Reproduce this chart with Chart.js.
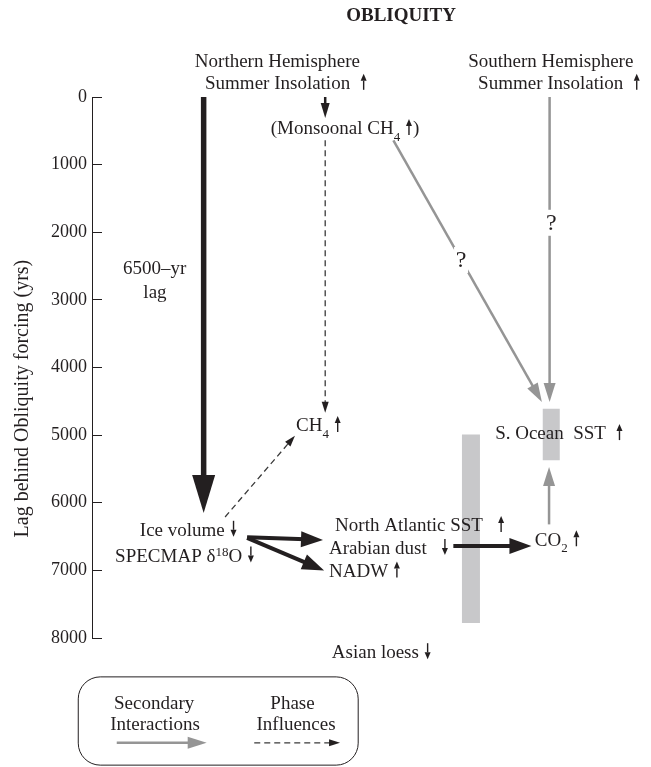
<!DOCTYPE html>
<html>
<head>
<meta charset="utf-8">
<script src="https://cdn.jsdelivr.net/npm/chart.js@4.4.1/dist/chart.umd.min.js"></script>
<style>
  html, body { margin: 0; padding: 0; background: #fff; }
</style>
</head>
<body>
<canvas id="chart" width="651" height="767"></canvas>
<script>
// Lag axis, years behind obliquity forcing
const lagTicks = [0, 1000, 2000, 3000, 4000, 5000, 6000, 7000, 8000];

// Labelled nodes: x is a 0-100 position across the panel, lag in years.
// "_4" = subscript, "^18" = superscript, {up}/{down} = trend arrow
const nodeText = [
  'Northern Hemisphere', 'Summer Insolation  {up}',
  'Southern Hemisphere', 'Summer Insolation  {up}',
  '(Monsoonal CH_4 {up})', 'CH_4 {up}',
  'Ice volume {down}', 'SPECMAP δ^18O {down}',
  'North Atlantic SST   {up}', 'Arabian dust   {down}', 'NADW {up}',
  'CO_2 {up}', 'S. Ocean  SST  {up}', 'Asian loess {down}'
];
const nodeX   = [18.7, 20.55, 68.4, 70.2, 32.5, 37.1, 8.7, 4.2, 44.2, 43.1, 43.1, 80.5, 73.3, 43.6];
const nodeLag = [-530, -210, -530, -210, 460, 4850, 6400, 6780, 6330, 6670, 7000, 6540, 4970, 8210];

// centred notes
const noteText = ['6500\u2013yr', 'lag'];
const noteX    = [11.4, 11.45];
const noteLag  = [2530, 2880];

// unknown links
const queryX   = [67.1, 83.5];
const queryLag = [2410, 1860];

// arrows: start / end (x, lag) and their kind
const arrowKind  = ['big', 'small', 'dashed', 'dashed', 'bold', 'bold', 'bold', 'gray', 'gray', 'gray'];
const arrowFromX = [20.3, 42.4, 42.4, 24.2, 28.2, 28.2, 65.7, 83.1, 54.8, 83.2];
const arrowFromL = [0,    0,    640,  6210, 6510, 6520, 6640, 6320, 640,  0];
const arrowToX   = [20.3, 42.4, 42.4, 36.9, 42.0, 42.2, 79.9, 83.1, 81.8, 83.2];
const arrowToL   = [6150, 310,  4670, 5010, 6550, 7000, 6640, 5470, 4510, 4510];

// shaded timing bands: x, lag range
const bandX    = [68.9, 83.5];
const bandFrom = [4990, 4610];
const bandTo   = [7780, 5370];

// legend
const legendLabels = [['Secondary', 'Interactions'], ['Phase', 'Influences']];
const legendKind   = ['gray', 'dashed'];
const legendX      = [[4.5, 20.85], [29.5, 45.1]];
const legendLag    = 9550;

const FAMILY = "'Liberation Serif', 'Times New Roman', serif";
const INK = '#231f20';
const GRAY = '#959595';

const styles = {
  big:    { color: INK,  width: 5.5, head: { len: 38, w: 23, color: INK } },
  bold:   { color: INK,  width: 4,   head: { len: 22, w: 16, color: INK } },
  small:  { color: INK,  width: 2.5, head: { len: 15, w: 9,  color: INK } },
  gray:   { color: GRAY, width: 2.5, head: { len: 19, w: 12, color: GRAY } },
  dashed: { color: '#3a3a3a', width: 1.3, dash: [6, 4], head: { len: 11, w: 7, color: INK } }
};

function arrowDataset(kind, x0, l0, x1, l1) {
  const s = styles[kind];
  return {
    type: 'line',
    data: [{ x: x0, y: l0 }, { x: x1, y: l1 }],
    borderColor: s.color,
    borderWidth: s.width,
    borderDash: s.dash || [],
    borderCapStyle: 'butt',
    pointRadius: 0,
    clip: false,
    order: 1,
    head: s.head
  };
}

const datasets = [];
arrowKind.forEach((k, i) => datasets.push(arrowDataset(k, arrowFromX[i], arrowFromL[i], arrowToX[i], arrowToL[i])));
legendKind.forEach((k, i) => datasets.push(arrowDataset(k, legendX[i][0], legendLag, legendX[i][1], legendLag)));
bandX.forEach((x, i) => datasets.push({
  type: 'line',
  data: [{ x: x, y: bandFrom[i] }, { x: x, y: bandTo[i] }],
  borderColor: '#c8c8ca',
  borderWidth: i === 0 ? 18 : 17,
  borderCapStyle: 'butt',
  pointRadius: 0,
  clip: false,
  order: 5
}));

// arrow heads at the last point of each arrow dataset
const tips = {};
const arrowHeads = {
  id: 'arrowHeads',
  beforeDatasetDraw(chart, args) {
    const ds = chart.data.datasets[args.index];
    if (!ds.head) return;
    const pts = args.meta.data;
    const a = pts[0], b = pts[1];
    const dx = b.x - a.x, dy = b.y - a.y, len = Math.hypot(dx, dy);
    const t = { x: b.x, y: b.y, ux: dx / len, uy: dy / len };
    tips[args.index] = t;
    b.x -= t.ux * ds.head.len * 0.8;
    b.y -= t.uy * ds.head.len * 0.8;
    args.meta.dataset._path = undefined;
  },
  afterDatasetDraw(chart, args) {
    const ds = chart.data.datasets[args.index];
    const t = tips[args.index];
    if (!ds.head || !t) return;
    const b = args.meta.data[1];
    b.x = t.x; b.y = t.y;
    const ctx = chart.ctx;
    const bx = t.x - t.ux * ds.head.len, by = t.y - t.uy * ds.head.len;
    const nx = -t.uy * ds.head.w / 2, ny = t.ux * ds.head.w / 2;
    ctx.save();
    ctx.fillStyle = ds.head.color;
    ctx.beginPath();
    ctx.moveTo(t.x, t.y);
    ctx.lineTo(bx + nx, by + ny);
    ctx.lineTo(bx - nx, by - ny);
    ctx.closePath();
    ctx.fill();
    ctx.restore();
  }
};

function splitRuns(str) {
  return str.split(/(_\d+|\^\d+|\{up\}|\{down\})/).filter(s => s).map(s => {
    if (s[0] === '_') return { t: s.slice(1), kind: 'sub' };
    if (s[0] === '^') return { t: s.slice(1), kind: 'sup' };
    if (s === '{up}' || s === '{down}') return { t: '', kind: s.slice(1, -1) };
    return { t: s, kind: 'text' };
  });
}

function trendArrow(ctx, x, y, dir) {
  const half = 8, hl = 7, hw = 3;
  const tipY = dir === 'up' ? y - half : y + half;
  const tailY = dir === 'up' ? y + half : y - half;
  const baseY = dir === 'up' ? tipY + hl : tipY - hl;
  ctx.save();
  ctx.strokeStyle = INK;
  ctx.fillStyle = INK;
  ctx.lineWidth = 1.4;
  ctx.beginPath();
  ctx.moveTo(x, tailY);
  ctx.lineTo(x, baseY);
  ctx.stroke();
  ctx.beginPath();
  ctx.moveTo(x, tipY);
  ctx.lineTo(x - hw, baseY);
  ctx.lineTo(x + hw, baseY);
  ctx.closePath();
  ctx.fill();
  ctx.restore();
}

function drawRich(ctx, str, x, y, size, align) {
  const runs = splitRuns(str);
  const small = Math.round(size * 0.7);
  const fontOf = k => ((k === 'sub' || k === 'sup') ? small : size) + 'px ' + FAMILY;
  let total = 0;
  runs.forEach(r => {
    if (r.kind === 'up' || r.kind === 'down') { r.w = 8; }
    else { ctx.font = fontOf(r.kind); r.w = ctx.measureText(r.t).width; }
    total += r.w;
  });
  let cx = align === 'center' ? x - total / 2 : x;
  const base = y + 0.33 * size;
  ctx.save();
  ctx.fillStyle = INK;
  ctx.textAlign = 'left';
  ctx.textBaseline = 'alphabetic';
  runs.forEach(r => {
    if (r.kind === 'up' || r.kind === 'down') {
      trendArrow(ctx, cx + 4, y - 1, r.kind);
    } else {
      ctx.font = fontOf(r.kind);
      const by = r.kind === 'sub' ? base + 0.36 * size : r.kind === 'sup' ? base - 0.3 * size : base;
      ctx.fillText(r.t, cx, by);
    }
    cx += r.w;
  });
  ctx.restore();
}

const diagramText = {
  id: 'diagramText',
  afterDatasetsDraw(chart) {
    const ctx = chart.ctx;
    const xs = chart.scales.x, ys = chart.scales.y;
    const px = v => xs.getPixelForValue(v), py = v => ys.getPixelForValue(v);

    ctx.save();
    ctx.fillStyle = INK;
    ctx.textAlign = 'center';
    ctx.textBaseline = 'middle';

    // heading
    ctx.font = 'bold 19px ' + FAMILY;
    ctx.fillText('OBLIQUITY', px(56.2), py(-1200));

    // axis title
    ctx.save();
    ctx.translate(px(-12.6), py(4460));
    ctx.rotate(-Math.PI / 2);
    ctx.font = '20px ' + FAMILY;
    ctx.fillText('Lag behind Obliquity forcing (yrs)', 0, 0);
    ctx.restore();

    // question marks breaking the grey links
    queryX.forEach((x, i) => {
      ctx.fillStyle = '#fff';
      ctx.fillRect(px(x) - 7, py(queryLag[i]) - 13, 14, 26);
      ctx.fillStyle = INK;
      ctx.font = '24px ' + FAMILY;
      ctx.fillText('?', px(x), py(queryLag[i]) + 1);
    });
    ctx.restore();

    nodeText.forEach((t, i) => drawRich(ctx, t, px(nodeX[i]), py(nodeLag[i]), 19, 'left'));
    noteText.forEach((t, i) => drawRich(ctx, t, px(noteX[i]), py(noteLag[i]), 19, 'center'));

    // legend box
    const x0 = px(-2.5), x1 = px(48.4), y0 = py(8575), y1 = py(9880), r = 22;
    ctx.save();
    ctx.strokeStyle = INK;
    ctx.lineWidth = 1;
    ctx.beginPath();
    ctx.moveTo(x0 + r, y0);
    ctx.arcTo(x1, y0, x1, y1, r);
    ctx.arcTo(x1, y1, x0, y1, r);
    ctx.arcTo(x0, y1, x0, y0, r);
    ctx.arcTo(x0, y0, x1, y0, r);
    ctx.closePath();
    ctx.stroke();
    ctx.restore();

    const legendTextX = [[11.3, 11.45], [36.45, 37.1]];
    legendLabels.forEach((pair, i) => {
      drawRich(ctx, pair[0], px(legendTextX[i][0]), py(8955), 19, 'center');
      drawRich(ctx, pair[1], px(legendTextX[i][1]), py(9265), 19, 'center');
    });
  }
};

Chart.defaults.font.family = FAMILY;
Chart.defaults.color = INK;

new Chart(document.getElementById('chart'), {
  type: 'line',
  data: { datasets: datasets },
  options: {
    responsive: false,
    animation: false,
    events: [],
    layout: { padding: { left: 9, right: 9, top: 97, bottom: 129 } },
    plugins: { legend: { display: false }, tooltip: { enabled: false } },
    scales: {
      x: { type: 'linear', min: 0, max: 100, display: false },
      y: {
        type: 'linear',
        reverse: true,
        min: 0,
        max: 8000,
        afterBuildTicks: s => { s.ticks = lagTicks.map(v => ({ value: v })); },
        afterFit: s => { s.width = 83; },
        grid: { drawOnChartArea: false, tickLength: -10, color: INK, lineWidth: 1 },
        border: { display: true, color: INK, width: 1 },
        ticks: { padding: 15, font: { size: 18 }, color: INK, callback: v => String(v) }
      }
    }
  },
  plugins: [arrowHeads, diagramText]
});
</script>
</body>
</html>
